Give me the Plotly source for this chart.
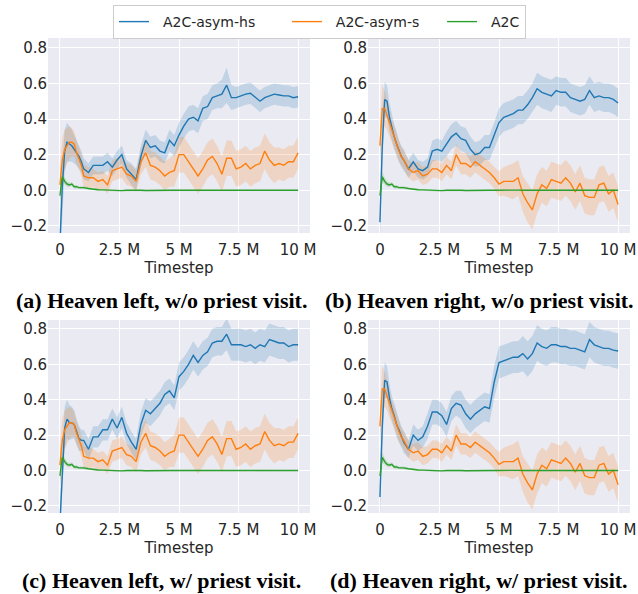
import plotly.graph_objects as go

# ---------------- data (timesteps in millions) ----------------
X = [0, 0.1, 0.2, 0.3, 0.4, 0.5, 0.6, 0.7, 0.8, 0.9, 1.0,
     1.2, 1.4, 1.6, 1.8, 2.0, 2.2, 2.4, 2.6, 2.8, 3.0,
     3.2, 3.4, 3.6, 3.8, 4.0, 4.2, 4.4, 4.6, 4.8, 5.0,
     5.2, 5.4, 5.6, 5.8, 6.0, 6.2, 6.4, 6.6, 6.8, 7.0,
     7.2, 7.4, 7.6, 7.8, 8.0, 8.2, 8.4, 8.6, 8.8, 9.0,
     9.2, 9.4, 9.6, 9.8, 10.0]

series_names = ["A2C-asym-hs", "A2C-asym-s", "A2C"]
series_colors = ["#1f77b4", "#ff7f0e", "#2ca02c"]
band_colors = ["rgba(31,119,180,0.2)", "rgba(255,127,14,0.2)", "rgba(44,160,44,0.2)"]

captions = ["(a) Heaven left, w/o priest visit.", "(b) Heaven right, w/o priest visit.",
            "(c) Heaven left, w/ priest visit.", "(d) Heaven right, w/ priest visit."]

x_tickvals = [0, 2.5, 5, 7.5, 10]
x_ticktext = ["0", "2.5 M", "5 M", "7.5 M", "10 M"]
y_tickvals = [-0.2, 0.0, 0.2, 0.4, 0.6, 0.8]
y_ticktext = ["\u22120.2", "0.0", "0.2", "0.4", "0.6", "0.8"]

# A2C-asym-hs means
blue_a = [-0.30, 0.02, 0.22, 0.27, 0.26, 0.25, 0.23, 0.21, 0.19, 0.16, 0.12,
          0.10, 0.14, 0.14, 0.14, 0.16, 0.13, 0.17, 0.20, 0.12, 0.09,
          0.06, 0.19, 0.28, 0.24, 0.25, 0.22, 0.21, 0.28, 0.25, 0.31,
          0.36, 0.40, 0.41, 0.39, 0.46, 0.47, 0.52, 0.53, 0.54, 0.59,
          0.52, 0.52, 0.53, 0.54, 0.545, 0.52, 0.50, 0.52, 0.53, 0.54,
          0.535, 0.53, 0.53, 0.52, 0.525]
blue_a_sd = [0.12, 0.12, 0.12, 0.11, 0.10, 0.09, 0.08, 0.07, 0.07, 0.06, 0.06,
             0.05, 0.05, 0.05, 0.05, 0.05, 0.05, 0.05, 0.05, 0.05, 0.06,
             0.06, 0.06, 0.06, 0.06, 0.06, 0.06, 0.06, 0.06, 0.06, 0.07,
             0.07, 0.07, 0.07, 0.07, 0.07, 0.07, 0.07, 0.07, 0.08, 0.10,
             0.07, 0.06, 0.06, 0.06, 0.06, 0.06, 0.06, 0.06, 0.06, 0.06,
             0.06, 0.06, 0.06, 0.06, 0.06]
blue_b = [-0.18, 0.25, 0.51, 0.50, 0.41, 0.35, 0.30, 0.26, 0.22, 0.19, 0.17,
          0.12, 0.16, 0.12, 0.11, 0.13, 0.22, 0.23, 0.22, 0.26, 0.30,
          0.32, 0.29, 0.28, 0.23, 0.20, 0.21, 0.24, 0.24, 0.31, 0.38,
          0.41, 0.42, 0.43, 0.45, 0.45, 0.48, 0.52, 0.57, 0.55, 0.54,
          0.53, 0.56, 0.55, 0.55, 0.52, 0.51, 0.50, 0.51, 0.56, 0.52,
          0.53, 0.52, 0.52, 0.51, 0.49]
blue_b_sd = [0.12, 0.11, 0.10, 0.09, 0.08, 0.07, 0.07, 0.07, 0.06, 0.06, 0.06,
             0.05, 0.05, 0.05, 0.05, 0.05, 0.06, 0.06, 0.06, 0.07, 0.07,
             0.07, 0.07, 0.07, 0.07, 0.07, 0.07, 0.07, 0.07, 0.07, 0.08,
             0.08, 0.08, 0.08, 0.08, 0.08, 0.08, 0.08, 0.09, 0.09, 0.09,
             0.09, 0.08, 0.08, 0.08, 0.08, 0.08, 0.08, 0.08, 0.08, 0.08,
             0.08, 0.08, 0.08, 0.08, 0.08]
blue_c = [-0.30, 0.02, 0.24, 0.29, 0.27, 0.27, 0.26, 0.22, 0.18, 0.17, 0.17,
          0.12, 0.19, 0.19, 0.23, 0.23, 0.29, 0.24, 0.30, 0.21, 0.16,
          0.12, 0.26, 0.34, 0.32, 0.35, 0.38, 0.43, 0.45, 0.41, 0.53,
          0.56, 0.60, 0.65, 0.61, 0.65, 0.67, 0.72, 0.73, 0.73, 0.77,
          0.71, 0.71, 0.71, 0.70, 0.71, 0.69, 0.71, 0.70, 0.74, 0.73,
          0.72, 0.72, 0.70, 0.71, 0.71]
blue_c_sd = [0.12, 0.12, 0.12, 0.11, 0.10, 0.09, 0.08, 0.07, 0.07, 0.06, 0.06,
             0.06, 0.06, 0.06, 0.06, 0.06, 0.06, 0.06, 0.06, 0.06, 0.06,
             0.06, 0.07, 0.07, 0.07, 0.07, 0.07, 0.07, 0.07, 0.07, 0.08,
             0.08, 0.08, 0.08, 0.08, 0.08, 0.08, 0.08, 0.08, 0.08, 0.09,
             0.09, 0.09, 0.09, 0.09, 0.09, 0.09, 0.09, 0.09, 0.09, 0.09,
             0.09, 0.09, 0.09, 0.09, 0.09]
blue_d = [-0.15, 0.25, 0.51, 0.50, 0.41, 0.35, 0.31, 0.26, 0.23, 0.19, 0.16,
          0.12, 0.20, 0.17, 0.19, 0.25, 0.33, 0.33, 0.31, 0.26, 0.35,
          0.38, 0.37, 0.32, 0.29, 0.32, 0.34, 0.36, 0.35, 0.50, 0.61,
          0.62, 0.63, 0.64, 0.64, 0.66, 0.63, 0.66, 0.72, 0.70, 0.69,
          0.71, 0.71, 0.70, 0.70, 0.69, 0.69, 0.68, 0.67, 0.74, 0.71,
          0.70, 0.69, 0.69, 0.68, 0.675]
blue_d_sd = [0.12, 0.11, 0.10, 0.09, 0.08, 0.07, 0.07, 0.07, 0.06, 0.06, 0.06,
             0.05, 0.06, 0.06, 0.06, 0.07, 0.07, 0.07, 0.07, 0.07, 0.07,
             0.07, 0.08, 0.08, 0.08, 0.08, 0.08, 0.08, 0.08, 0.09, 0.09,
             0.09, 0.09, 0.09, 0.09, 0.10, 0.10, 0.10, 0.10, 0.10, 0.10,
             0.10, 0.10, 0.10, 0.10, 0.10, 0.10, 0.10, 0.10, 0.10, 0.10,
             0.10, 0.10, 0.10, 0.10, 0.10]

# A2C-asym-s means (same runs for left / right heaven)
orange_left = [0.03, 0.17, 0.23, 0.25, 0.27, 0.27, 0.26, 0.21, 0.18, 0.14, 0.08,
               0.07, 0.07, 0.05, 0.06, 0.03, 0.11, 0.12, 0.13, 0.09, 0.08,
               0.05, 0.16, 0.21, 0.14, 0.13, 0.11, 0.08, 0.10, 0.11, 0.20,
               0.20, 0.16, 0.12, 0.08, 0.12, 0.17, 0.19, 0.15, 0.09, 0.18,
               0.18, 0.12, 0.13, 0.15, 0.12, 0.14, 0.15, 0.22, 0.17, 0.14,
               0.15, 0.14, 0.16, 0.16, 0.21]
orange_left_sd = [0.12, 0.12, 0.11, 0.10, 0.09, 0.08, 0.07, 0.07, 0.06, 0.06, 0.06,
                  0.06, 0.05, 0.05, 0.05, 0.05, 0.06, 0.06, 0.06, 0.06, 0.06,
                  0.06, 0.07, 0.08, 0.08, 0.08, 0.08, 0.08, 0.08, 0.09, 0.10,
                  0.10, 0.10, 0.10, 0.10, 0.10, 0.10, 0.10, 0.10, 0.10, 0.10,
                  0.10, 0.10, 0.10, 0.10, 0.10, 0.10, 0.10, 0.10, 0.10, 0.10,
                  0.09, 0.09, 0.09, 0.09, 0.09]
orange_right = [0.25, 0.46, 0.46, 0.42, 0.37, 0.33, 0.30, 0.26, 0.22, 0.19, 0.17,
                0.12, 0.10, 0.11, 0.08, 0.09, 0.12, 0.12, 0.10, 0.14, 0.11,
                0.20, 0.15, 0.15, 0.13, 0.16, 0.14, 0.12, 0.10, 0.07, 0.035,
                0.05, 0.05, 0.05, 0.07, -0.02, -0.07, -0.11, -0.02, 0.03, 0.01,
                0.06, 0.05, 0.04, 0.07, 0.04, -0.01, 0.04, -0.03, -0.04, -0.04,
                0.03, 0.04, -0.02, 0.0, -0.08]
orange_right_sd = [0.10, 0.13, 0.10, 0.08, 0.07, 0.06, 0.06, 0.06, 0.06, 0.05, 0.05,
                   0.05, 0.05, 0.05, 0.05, 0.05, 0.05, 0.05, 0.05, 0.05, 0.05,
                   0.06, 0.06, 0.06, 0.06, 0.06, 0.06, 0.06, 0.06, 0.06, 0.07,
                   0.08, 0.09, 0.10, 0.10, 0.10, 0.11, 0.11, 0.11, 0.10, 0.10,
                   0.10, 0.10, 0.10, 0.10, 0.10, 0.10, 0.10, 0.10, 0.10, 0.10,
                   0.10, 0.10, 0.10, 0.10, 0.10]

# A2C means (same in all panels)
green = [-0.03, 0.075, 0.05, 0.035, 0.03, 0.035, 0.02, 0.02, 0.015, 0.015, 0.015,
         0.01, 0.005, 0.003, 0.002, 0.0, -0.002, -0.003, -0.002, 0.0, 0.001,
         0.0, 0.0, -0.001, 0.0, 0.0, 0.001, 0.0, 0.0, 0.0, 0.001,
         0.0, 0.0, 0.0, 0.001, 0.0, 0.0, 0.0, 0.0, 0.001, 0.0,
         0.0, 0.0, 0.0, 0.0, 0.001, 0.0, 0.0, 0.0, 0.0, 0.0,
         0.0, 0.0, 0.0, 0.0, 0.0]
green_sd = [0.05, 0.03, 0.02, 0.015, 0.012, 0.01, 0.01, 0.01, 0.008, 0.008, 0.008,
            0.006, 0.005, 0.005, 0.004, 0.004, 0.004, 0.004, 0.003, 0.003, 0.003,
            0.003, 0.003, 0.003, 0.003, 0.003, 0.003, 0.003, 0.003, 0.003, 0.003,
            0.003, 0.003, 0.003, 0.003, 0.003, 0.003, 0.003, 0.003, 0.003, 0.003,
            0.003, 0.003, 0.003, 0.003, 0.003, 0.003, 0.003, 0.003, 0.003, 0.003,
            0.003, 0.003, 0.003, 0.003, 0.003]

panels = [
    [(blue_a, blue_a_sd), (orange_left, orange_left_sd), (green, green_sd)],
    [(blue_b, blue_b_sd), (orange_right, orange_right_sd), (green, green_sd)],
    [(blue_c, blue_c_sd), (orange_left, orange_left_sd), (green, green_sd)],
    [(blue_d, blue_d_sd), (orange_right, orange_right_sd), (green, green_sd)],
]

# ---------------- layout geometry ----------------
W, H = 638, 594
col_px = [(48, 310), (368, 630)]
row_px = [(38, 233), (320, 513)]
TXT = "#262626"
NB = "\u00a0"
legend_pad_pre = [NB * 2, NB * 2, NB * 2]
legend_pad_post = [NB * 6, NB * 4, ""]

fig = go.Figure()

for p, panel in enumerate(panels):
    r, c = divmod(p, 2)
    xa = "x" if p == 0 else f"x{p+1}"
    ya = "y" if p == 0 else f"y{p+1}"
    for s, (mean, sd) in enumerate(panel):
        upper = [m + d for m, d in zip(mean, sd)]
        lower = [m - d for m, d in zip(mean, sd)]
        fig.add_trace(go.Scatter(
            x=X + X[::-1], y=upper + lower[::-1], fill="toself",
            fillcolor=band_colors[s], line=dict(width=0), mode="lines",
            hoverinfo="skip", showlegend=False, xaxis=xa, yaxis=ya))
    for s, (mean, sd) in enumerate(panel):
        fig.add_trace(go.Scatter(
            x=X, y=mean, mode="lines",
            name=legend_pad_pre[s] + series_names[s] + legend_pad_post[s],
            line=dict(color=series_colors[s], width=1.4),
            showlegend=(p == 0), xaxis=xa, yaxis=ya))

    x0, x1 = col_px[c]
    y0, y1 = row_px[r]
    axis_common = dict(showgrid=True, gridcolor="white", gridwidth=1.2,
                       zeroline=False, showline=False, automargin=False,
                       tickfont=dict(family="DejaVu Sans", size=15, color=TXT))
    xkey = "xaxis" if p == 0 else f"xaxis{p+1}"
    ykey = "yaxis" if p == 0 else f"yaxis{p+1}"
    fig.layout[xkey] = dict(
        domain=[x0 / W, x1 / W], anchor=ya, range=[-0.5, 10.5],
        tickvals=x_tickvals, ticktext=x_ticktext,
        ticks="outside", ticklen=3, tickcolor="rgba(0,0,0,0)",
        title=dict(text="Timestep", standoff=0,
                   font=dict(family="DejaVu Sans", size=15, color=TXT)),
        **axis_common)
    fig.layout[ykey] = dict(
        domain=[1 - y1 / H, 1 - y0 / H], anchor=xa,
        range=[-0.24, 0.855 if r == 0 else 0.85], ticks="",
        tickvals=y_tickvals, ticktext=y_ticktext, **axis_common)

    cap_x = [161 / W, 479 / W][c]
    cap_y = [1 - 300 / H, 1 - 580 / H][r]
    fig.add_annotation(text=f"<b>{captions[p]}</b>", x=cap_x, y=cap_y,
                       xref="paper", yref="paper", showarrow=False,
                       xanchor="center", yanchor="middle",
                       font=dict(family="Liberation Serif", size=22, color="black"))

fig.update_layout(
    width=W, height=H, margin=dict(l=0, r=0, t=0, b=0),
    paper_bgcolor="white", plot_bgcolor="#EAEAF2",
    showlegend=True,
    legend=dict(orientation="h", x=113 / W, xanchor="left", y=1 - 5 / H, yanchor="top",
                bgcolor="rgba(255,255,255,0.8)", bordercolor="#CCCCCC", borderwidth=1,
                font=dict(family="DejaVu Sans", size=14, color=TXT),
                itemwidth=30, tracegroupgap=0),
)

fig.write_html("out.html", config={"displayModeBar": False},
               post_script="document.body.style.margin='0px';")
